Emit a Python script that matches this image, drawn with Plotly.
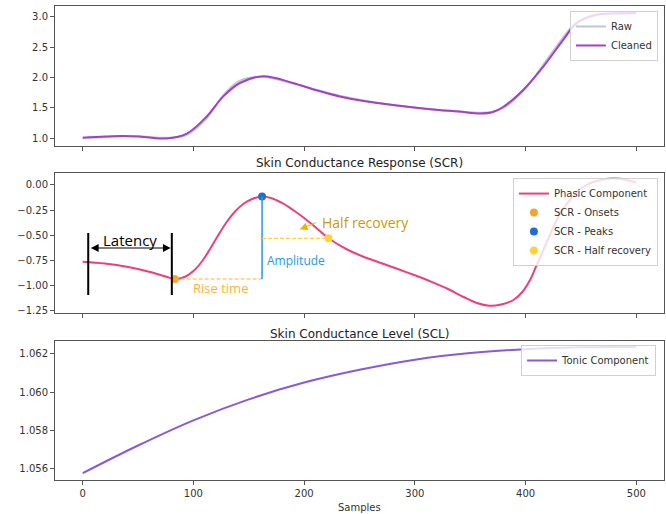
import plotly.graph_objects as go

# ---------------- data ----------------
# Top panel (raw vs cleaned EDA)
eda_x = [0, 20, 37, 55, 76, 94, 112, 127, 142, 163, 190, 211, 232, 255, 284, 314, 340, 359, 370, 380, 398, 416, 434, 446, 464, 480, 500]
eda_cleaned = [1.01, 1.03, 1.04, 1.025, 1.0, 1.08, 1.36, 1.69, 1.91, 2.02, 1.91, 1.79, 1.69, 1.61, 1.54, 1.48, 1.44, 1.41, 1.43, 1.52, 1.80, 2.18, 2.62, 2.89, 3.03, 3.05, 3.06]
eda_raw = [1.01, 1.02, 1.04, 1.03, 1.01, 1.06, 1.33, 1.71, 1.95, 2.01, 1.90, 1.80, 1.70, 1.62, 1.54, 1.48, 1.44, 1.42, 1.44, 1.50, 1.78, 2.21, 2.66, 2.91, 3.04, 3.06, 3.07]

# Middle panel (phasic component)
phasic_x = [0, 20, 40, 60, 75, 83, 92, 100, 108, 115, 122, 130, 138, 145, 152, 162, 170, 180, 190, 200, 210, 222, 238, 253, 270, 284, 300, 314, 330, 344, 356, 367, 378, 389, 397, 404, 410, 416, 422, 428, 434, 440, 446, 452, 461, 470, 478, 486, 493, 500]
phasic = [-0.767, -0.785, -0.817, -0.867, -0.915, -0.94, -0.92, -0.86, -0.76, -0.64, -0.51, -0.37, -0.26, -0.19, -0.145, -0.115, -0.13, -0.18, -0.25, -0.33, -0.42, -0.533, -0.64, -0.715, -0.783, -0.838, -0.903, -0.963, -1.04, -1.12, -1.18, -1.207, -1.195, -1.15, -1.07, -0.95, -0.80, -0.65, -0.50, -0.35, -0.24, -0.15, -0.075, -0.02, 0.03, 0.055, 0.065, 0.062, 0.045, 0.025]
onset_x, onset_y = [83], [-0.94]
peak_x, peak_y = [162], [-0.115]
half_x, half_y = [222], [-0.533]

# Bottom panel (tonic component)
tonic_x = [0, 50, 100, 150, 200, 250, 300, 350, 400, 450, 500]
tonic = [1.05575, 1.0572, 1.05852, 1.05962, 1.0605, 1.06117, 1.0617, 1.06205, 1.06225, 1.06235, 1.06238]

# Annotation quantities (samples / values)
latency_start, latency_end = 5, 80.5

x_ticks = [0, 100, 200, 300, 400, 500]
top_ticks = [1.0, 1.5, 2.0, 2.5, 3.0]
mid_ticks = [0.0, -0.25, -0.5, -0.75, -1.0, -1.25]
mid_ticklabels = ["0.00", "\u22120.25", "\u22120.50", "\u22120.75", "\u22121.00", "\u22121.25"]
bot_ticks = [1.056, 1.058, 1.060, 1.062]

# ---------------- styles ----------------
FONT = "DejaVu Sans"
C_RAW = "#b9c9da"
C_CLEAN = "#a63fc4"
C_PHASIC = "#ee3f78"
C_ONSET = "#fba22e"
C_PEAK = "#1d6fd6"
C_HALF = "#fdd23a"
C_TONIC = "#8a5ad6"
C_AMP = "#2399e8"
C_RISE = "#ffb339"
C_HALFTXT = "#c99a08"

fig = go.Figure()

fig.add_trace(go.Scatter(x=eda_x, y=eda_raw, mode="lines", name="Raw",
                         line=dict(color=C_RAW, width=2, shape="spline"),
                         xaxis="x", yaxis="y", legend="legend"))
fig.add_trace(go.Scatter(x=eda_x, y=eda_cleaned, mode="lines", name="Cleaned",
                         line=dict(color=C_CLEAN, width=2, shape="spline"),
                         xaxis="x", yaxis="y", legend="legend"))

fig.add_trace(go.Scatter(x=phasic_x, y=phasic, mode="lines", name="Phasic Component",
                         line=dict(color=C_PHASIC, width=2, shape="spline"),
                         xaxis="x2", yaxis="y2", legend="legend2"))
fig.add_trace(go.Scatter(x=onset_x, y=onset_y, mode="markers", name="SCR - Onsets",
                         marker=dict(color=C_ONSET, size=8),
                         xaxis="x2", yaxis="y2", legend="legend2"))
fig.add_trace(go.Scatter(x=peak_x, y=peak_y, mode="markers", name="SCR - Peaks",
                         marker=dict(color=C_PEAK, size=8),
                         xaxis="x2", yaxis="y2", legend="legend2"))
fig.add_trace(go.Scatter(x=half_x, y=half_y, mode="markers", name="SCR - Half recovery",
                         marker=dict(color=C_HALF, size=8),
                         xaxis="x2", yaxis="y2", legend="legend2"))

fig.add_trace(go.Scatter(x=tonic_x, y=tonic, mode="lines", name="Tonic Component",
                         line=dict(color=C_TONIC, width=2, shape="spline"),
                         xaxis="x3", yaxis="y3", legend="legend3"))

axis_common = dict(showline=True, mirror=True, linecolor="#555", linewidth=1,
                   ticks="outside", ticklen=4, tickcolor="#555", showgrid=False,
                   zeroline=False, automargin=False,
                   tickfont=dict(family=FONT, size=10, color="#333"))

dom1, dom2, dom3 = [0.7046, 1.0], [0.3523, 0.6477], [0.0, 0.2932]

fig.update_layout(
    width=666, height=514,
    margin=dict(l=55, r=2, t=6, b=34),
    paper_bgcolor="white", plot_bgcolor="white",
    font=dict(family=FONT, size=10, color="#333"),
    xaxis=dict(domain=[0, 1], anchor="y", range=[-25, 525], tickvals=x_ticks,
               showticklabels=False, **axis_common),
    yaxis=dict(domain=dom1, anchor="x", range=[0.875, 3.175], tickvals=top_ticks,
               tickformat=".1f", **axis_common),
    xaxis2=dict(domain=[0, 1], anchor="y2", range=[-25, 525], tickvals=x_ticks,
                showticklabels=False, **axis_common),
    yaxis2=dict(domain=dom2, anchor="x2", range=[-1.28, 0.12], tickvals=mid_ticks,
                ticktext=mid_ticklabels, **axis_common),
    xaxis3=dict(domain=[0, 1], anchor="y3", range=[-25, 525], tickvals=x_ticks,
                **axis_common),
    yaxis3=dict(domain=dom3, anchor="x3", range=[1.05539, 1.06268], tickvals=bot_ticks,
                tickformat=".3f", **axis_common),
    showlegend=True,
)

legend_common = dict(bgcolor="rgba(255,255,255,0.8)", bordercolor="#d0d0d0", borderwidth=1,
                     font=dict(family=FONT, size=10, color="#333"),
                     xanchor="right", yanchor="top", tracegroupgap=0)
fig.update_layout(
    legend=dict(x=0.990, y=0.9895, **legend_common),
    legend2=dict(x=0.990, y=0.637, **legend_common),
    legend3=dict(x=0.987, y=0.2848, **legend_common),
)

# Titles and axis label
fig.add_annotation(text="Skin Conductance Response (SCR)", xref="paper", yref="paper",
                   x=0.5, y=0.669, showarrow=False, yanchor="middle",
                   font=dict(family=FONT, size=12, color="#222"))
fig.add_annotation(text="Skin Conductance Level (SCL)", xref="paper", yref="paper",
                   x=0.5, y=0.3085, showarrow=False, yanchor="middle",
                   font=dict(family=FONT, size=12, color="#222"))
fig.add_annotation(text="Samples", xref="paper", yref="paper",
                   x=0.5, y=-0.059, showarrow=False, yanchor="middle",
                   font=dict(family=FONT, size=10, color="#333"))

# ---- SCR explanatory overlay ----
ANN = "Open Sans"
for lx in (latency_start, latency_end):
    fig.add_shape(type="line", xref="x2", yref="y2", x0=lx, x1=lx, y0=-0.48, y1=-1.10,
                  line=dict(color="black", width=2))
fig.add_annotation(xref="x2", yref="y2", axref="x2", ayref="y2",
                   x=latency_end - 1, y=-0.63, ax=latency_start + 1, ay=-0.63,
                   text="", showarrow=True, arrowhead=2, startarrowhead=2,
                   arrowside="end+start", arrowsize=1.3, arrowwidth=1.2, arrowcolor="black")
fig.add_annotation(xref="x2", yref="y2", x=(latency_start + latency_end) / 2, y=-0.55,
                   text="Latency", showarrow=False,
                   font=dict(family=ANN, size=15, color="black"))

# Rise time
fig.add_shape(type="line", xref="x2", yref="y2", x0=onset_x[0], x1=peak_x[0],
              y0=onset_y[0], y1=onset_y[0], line=dict(color=C_RISE, width=1.2, dash="4px,2px"))
fig.add_annotation(xref="x2", yref="y2", x=98, y=-1.03, xanchor="left",
                   text="Rise time", showarrow=False,
                   font=dict(family=ANN, size=13, color=C_RISE))

# Amplitude
fig.add_shape(type="line", xref="x2", yref="y2", x0=peak_x[0], x1=peak_x[0],
              y0=peak_y[0], y1=onset_y[0], line=dict(color=C_AMP, width=1.5))
fig.add_annotation(xref="x2", yref="y2", x=165, y=-0.75, xanchor="left",
                   text="Amplitude", showarrow=False,
                   font=dict(family=ANN, size=12, color=C_AMP))

# Half recovery
fig.add_shape(type="line", xref="x2", yref="y2", x0=peak_x[0], x1=half_x[0],
              y0=half_y[0], y1=half_y[0], line=dict(color=C_HALF, width=1.2, dash="4px,2px"))
fig.add_annotation(xref="x2", yref="y2", axref="x2", ayref="y2",
                   x=196, y=-0.445, ax=212, ay=-0.37,
                   text="", showarrow=True, arrowhead=2, arrowsize=1.6, arrowwidth=1,
                   arrowcolor="#f0b400")
fig.add_annotation(xref="x2", yref="y2", x=214, y=-0.37, xanchor="left",
                   text="Half recovery", showarrow=False,
                   font=dict(family=ANN, size=14, color=C_HALFTXT))

fig.write_html("out.html", config={"displayModeBar": False},
               post_script="document.body.style.margin='0px';")
